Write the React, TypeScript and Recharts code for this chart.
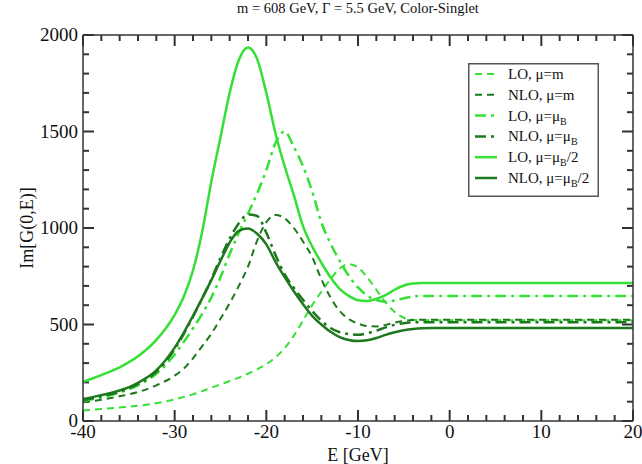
import { LineChart, Line, XAxis, YAxis, Legend, ReferenceLine } from 'recharts'

// E [GeV] grid (denser around the peaks)
const energy = [
  -40, -38, -36, -34, -32, -30, -29, -28, -27, -26, -25, -24, -23, -22, -21, -20, -19, -18, -17, -16,
  -15, -14, -13, -12, -11, -10, -9, -8, -7, -6, -5, -4, -3, -2, 0, 5, 10, 15, 20,
]

// LO, mu = m
const loMuM = [
  54, 62, 70, 79, 92, 112, 125, 138, 155, 172, 190, 207, 225, 245, 268, 295, 330, 378, 442, 520,
  600, 670, 735, 790, 813, 795, 745, 680, 615, 565, 535, 524, 522, 522, 522, 522, 522, 522, 522,
]
// NLO, mu = m
const nloMuM = [
  97, 110, 128, 150, 185, 235, 272, 325, 388, 452, 530, 610, 700, 800, 935, 1030, 1068, 1050, 1000, 930,
  850, 735, 640, 570, 528, 505, 492, 490, 498, 510, 518, 523, 525, 525, 525, 525, 525, 525, 525,
]
// LO, mu = mu_B
const loMuB = [
  105, 122, 148, 185, 245, 345, 410, 480, 555, 640, 745, 865, 975, 1075, 1180, 1300, 1440, 1500, 1420, 1320,
  1190, 1030, 920, 830, 752, 692, 650, 626, 618, 624, 636, 645, 648, 648, 648, 648, 648, 648, 648,
]
// NLO, mu = mu_B
const nloMuB = [
  108, 128, 152, 192, 255, 372, 452, 540, 635, 735, 845, 945, 1025, 1070, 1062, 975, 860, 760, 690, 628,
  570, 520, 482, 460, 450, 447, 455, 468, 485, 498, 507, 511, 512, 512, 512, 512, 512, 512, 512,
]
// LO, mu = mu_B/2
const loMuB2 = [
  203, 238, 278, 335, 420, 550, 645, 780, 980, 1240, 1470, 1700, 1870, 1935, 1875, 1700, 1490, 1320, 1170, 1010,
  905, 820, 745, 685, 648, 626, 622, 632, 652, 680, 702, 712, 715, 715, 715, 715, 715, 715, 715,
]
// NLO, mu = mu_B/2
const nloMuB2 = [
  114, 134, 158, 198, 262, 380, 458, 545, 635, 730, 830, 925, 985, 997, 970, 915, 825, 745, 672, 605,
  545, 500, 462, 435, 420, 414, 418, 430, 446, 460, 470, 477, 481, 482, 482, 482, 482, 482, 482,
]

const xTicks = [-40, -38, -36, -34, -32, -30, -28, -26, -24, -22, -20, -18, -16, -14, -12, -10, -8, -6, -4, -2, 0, 2, 4, 6, 8, 10, 12, 14, 16, 18, 20]
const yTicks = [0, 100, 200, 300, 400, 500, 600, 700, 800, 900, 1000, 1100, 1200, 1300, 1400, 1500, 1600, 1700, 1800, 1900, 2000]

const X_DOMAIN = [-40, 20]
const Y_DOMAIN = [0, 2000]

const BRIGHT = '#35e035'
const DARK = '#1e781e'
const FONT = 'Liberation Serif, Times New Roman, serif'
const AXIS = '#333'
const TICK_SIZE = 2 // built-in offset, compensated in the label renderers

const CHART_W = 642
const CHART_H = 464
const MARGIN = { top: 34, right: 8, bottom: 0, left: 0 }
const X_AXIS_H = 43
const Y_AXIS_W = 83
// plot box size, used to turn tick lengths in px into axis units
const PLOT_W = CHART_W - MARGIN.left - MARGIN.right - Y_AXIS_W - 1
const PLOT_H = CHART_H - MARGIN.top - MARGIN.bottom - X_AXIS_H - 1
const xPerPx = (X_DOMAIN[1] - X_DOMAIN[0]) / PLOT_W
const yPerPx = (Y_DOMAIN[1] - Y_DOMAIN[0]) / PLOT_H

const series = [
  { key: 'loMuM', text: 'LO, μ=m', sub: '', tail: '', color: BRIGHT, dash: '7 5', width: 2 },
  { key: 'nloMuM', text: 'NLO, μ=m', sub: '', tail: '', color: DARK, dash: '7 5', width: 2 },
  { key: 'loMuB', text: 'LO, μ=μ', sub: 'B', tail: '', color: BRIGHT, dash: '11 5 3 5', width: 2.5 },
  { key: 'nloMuB', text: 'NLO, μ=μ', sub: 'B', tail: '', color: DARK, dash: '11 5 3 5', width: 2.5 },
  { key: 'loMuB2', text: 'LO, μ=μ', sub: 'B', tail: '/2', color: BRIGHT, dash: undefined, width: 2.5 },
  { key: 'nloMuB2', text: 'NLO, μ=μ', sub: 'B', tail: '/2', color: DARK, dash: undefined, width: 2.5 },
]

const values: Record<string, number[]> = { loMuM, nloMuM, loMuB, nloMuB, loMuB2, nloMuB2 }

const rows = energy.map((E, i) => {
  const row: Record<string, number> = { E }
  for (const s of series) row[s.key] = values[s.key][i]
  return row
})

function BottomTick(p: any) {
  const v = p.payload.value
  if (v % 10 !== 0) return <g />
  return (
    <text x={p.x} y={p.y - TICK_SIZE + 17} textAnchor="middle" fontSize={19} fontFamily={FONT} fill="#111">
      {v}
    </text>
  )
}

function LeftTick(p: any) {
  const v = p.payload.value
  if (v % 500 !== 0) return <g />
  return (
    <text x={p.x + TICK_SIZE - 5} y={p.y + 6} textAnchor="end" fontSize={19} fontFamily={FONT} fill="#111">
      {v}
    </text>
  )
}

function XTitle(props: any) {
  const { viewBox } = props
  return (
    <text x={viewBox.x + viewBox.width / 2} y={viewBox.y + viewBox.height - 3} textAnchor="middle" fontSize={18} fontFamily={FONT} fill="#111">
      E [GeV]
    </text>
  )
}

function TopTitle(props: any) {
  const { viewBox } = props
  return (
    <text x={viewBox.x + viewBox.width / 2} y={viewBox.y + viewBox.height - 22} textAnchor="middle" fontSize={14.5} fontFamily={FONT} fill="#111">
      m = 608 GeV, Γ = 5.5 GeV, Color-Singlet
    </text>
  )
}

function YTitle(props: any) {
  const { viewBox } = props
  const cx = 27
  const cy = viewBox.y + viewBox.height / 2
  return (
    <text x={cx} y={cy} transform={`rotate(-90 ${cx} ${cy})`} textAnchor="middle" dominantBaseline="central" fontSize={18} fontFamily={FONT} fill="#111">
      Im[G(0,E)]
    </text>
  )
}

function LegendBox() {
  return (
    <svg width={131} height={134} style={{ display: 'block' }}>
      <rect x={0.75} y={0.75} width={129.5} height={132.5} fill="#fff" stroke="#555" strokeWidth={1.5} />
      {series.map((s, i) => {
        const cy = 11 + i * 20.8
        return (
          <g key={s.key}>
            <line x1={7} x2={29} y1={cy} y2={cy} stroke={s.color} strokeWidth={s.width} strokeDasharray={s.dash} />
            <text x={40} y={cy + 5} fontSize={15} fontFamily={FONT} fill="#111">
              {s.text}
              {s.sub && (
                <tspan dy={4} fontSize={10}>
                  {s.sub}
                </tspan>
              )}
              {s.tail && <tspan dy={-4}>{s.tail}</tspan>}
            </text>
          </g>
        )
      })}
    </svg>
  )
}

// inward tick marks on all four sides, placed through the chart scales
function tickMarks() {
  const out: any[] = []
  for (const v of xTicks) {
    const len = (v % 10 === 0 ? 11 : 6) * yPerPx
    out.push(
      <ReferenceLine key={`xb${v}`} segment={[{ x: v, y: Y_DOMAIN[0] }, { x: v, y: Y_DOMAIN[0] + len }]} stroke={AXIS} strokeWidth={2} ifOverflow="visible" />,
      <ReferenceLine key={`xt${v}`} segment={[{ x: v, y: Y_DOMAIN[1] }, { x: v, y: Y_DOMAIN[1] - len }]} stroke={AXIS} strokeWidth={2} ifOverflow="visible" />,
    )
  }
  for (const v of yTicks) {
    const len = (v % 500 === 0 ? 11 : 6) * xPerPx
    out.push(
      <ReferenceLine key={`yl${v}`} segment={[{ x: X_DOMAIN[0], y: v }, { x: X_DOMAIN[0] + len, y: v }]} stroke={AXIS} strokeWidth={2} ifOverflow="visible" />,
      <ReferenceLine key={`yr${v}`} segment={[{ x: X_DOMAIN[1], y: v }, { x: X_DOMAIN[1] - len, y: v }]} stroke={AXIS} strokeWidth={2} ifOverflow="visible" />,
    )
  }
  return out
}

const axisCommon = {
  type: 'number' as const,
  allowDataOverflow: true,
  interval: 0 as const,
  tickLine: false,
  tickSize: TICK_SIZE,
  tickMargin: 0,
  axisLine: { stroke: AXIS, strokeWidth: 1.5 },
}

export default function App() {
  return (
    <div style={{ position: 'absolute', left: 0, top: 0, background: '#fff' }}>
      <LineChart width={CHART_W} height={CHART_H} data={rows} margin={MARGIN}>
        <XAxis {...axisCommon} dataKey="E" domain={X_DOMAIN} ticks={xTicks} height={X_AXIS_H} tick={BottomTick} label={<XTitle />} />
        <XAxis
          {...axisCommon}
          xAxisId="top"
          dataKey="E"
          orientation="top"
          domain={X_DOMAIN}
          ticks={xTicks}
          height={1}
          tick={false}
          label={<TopTitle />}
        />
        <YAxis {...axisCommon} domain={Y_DOMAIN} ticks={yTicks} width={Y_AXIS_W} tick={LeftTick} label={<YTitle />} />
        <YAxis {...axisCommon} yAxisId="right" orientation="right" domain={Y_DOMAIN} ticks={yTicks} width={1} tick={false} />
        {tickMarks()}
        {series.map((s) => (
          <Line
            key={s.key}
            dataKey={s.key}
            type="monotone"
            stroke={s.color}
            strokeWidth={s.width}
            strokeDasharray={s.dash}
            dot={false}
            activeDot={false}
            isAnimationActive={false}
          />
        ))}
        <Legend
          layout="vertical"
          align="center"
          verticalAlign="middle"
          wrapperStyle={{ left: 468, top: 63, width: 131, height: 134 }}
          content={() => <LegendBox />}
        />
      </LineChart>
    </div>
  )
}
